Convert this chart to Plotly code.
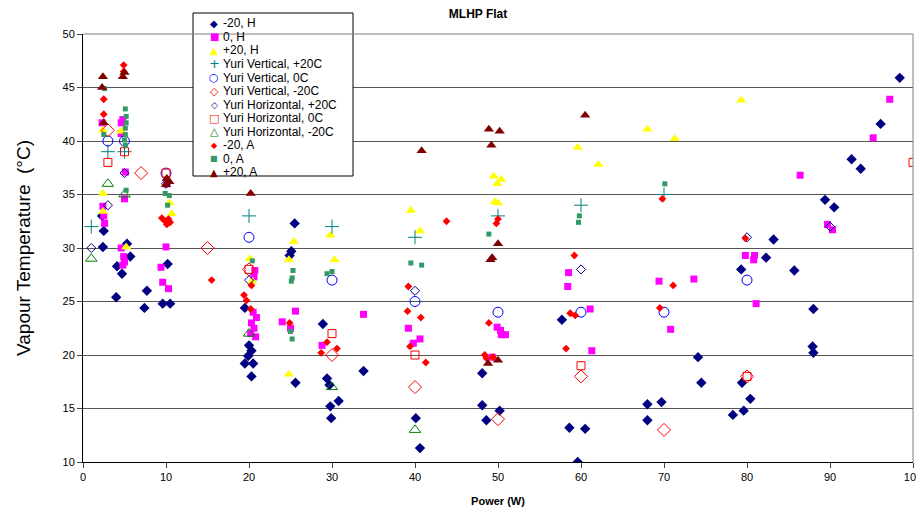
import plotly.graph_objects as go

# ---------------- data ----------------
neg20_H_x = [2.3, 2.5, 2.4, 5.3, 5.7, 4.1, 4.7, 4.0, 7.7, 7.4, 9.6, 10.5, 10.2,
             19.5, 20.0, 20.3, 19.9, 19.5, 20.5, 20.3,
             25.5, 25.1, 24.9, 25.6, 28.9, 29.4, 29.7, 30.8, 29.8, 29.9, 33.8,
             48.1, 48.1, 48.6, 50.2, 40.1, 40.6,
             57.7, 58.6, 60.5, 59.6, 68.0, 69.7, 68.0, 74.1, 74.5, 78.3,
             98.4, 96.1, 92.6, 93.7, 89.4, 90.5, 83.2, 82.3, 79.3, 85.7, 88.0, 87.9, 88.0, 79.4, 80.4, 79.6]
neg20_H_y = [33.0, 31.6, 30.1, 30.4, 29.2, 28.3, 27.6, 25.4, 26.0, 24.4, 24.8, 24.8, 28.5,
             24.4, 20.9, 20.4, 19.9, 19.2, 19.2, 18.0,
             32.3, 29.7, 29.3, 17.4, 22.9, 17.8, 17.2, 15.7, 15.2, 14.1, 18.5,
             18.3, 15.3, 13.9, 14.8, 14.1, 11.3,
             23.3, 13.2, 13.1, 10.0, 15.4, 15.6, 13.9, 19.8, 17.4, 14.4,
             45.9, 41.6, 38.3, 37.4, 34.5, 33.8, 30.8, 29.1, 28.0, 27.9, 24.3, 20.8, 20.2, 17.4, 15.9, 14.8]

zero_H_x = [2.4, 2.5, 2.6, 2.3, 4.6, 4.6, 5.1, 4.6, 4.9, 5.0, 5.0, 4.8, 4.8,
            10.0, 9.4, 9.6, 10.3, 10.1,
            20.7, 20.6, 20.5, 20.9, 20.3, 20.6, 20.2, 20.8,
            24.0, 25.6, 25.0, 28.8, 33.8,
            39.2, 39.8, 40.6, 49.9, 50.3, 50.4, 50.9, 49.3,
            58.5, 58.4, 61.1, 61.3, 69.4, 70.8, 73.6,
            97.2, 95.2, 86.4, 89.7, 90.3, 79.8, 80.9, 80.8, 81.1]
zero_H_y = [33.9, 33.0, 32.3, 41.7, 41.7, 40.7, 37.1, 30.0, 29.2, 28.7, 34.6, 28.4, 42.0,
            30.1, 28.2, 26.8, 26.2, 36.0,
            27.9, 27.3, 24.0, 23.5, 23.0, 22.5, 22.0, 21.7,
            23.1, 24.1, 22.5, 20.9, 23.8,
            22.5, 21.1, 21.5, 22.6, 22.3, 21.9, 21.9, 19.8,
            27.7, 26.4, 24.3, 20.4, 26.9, 22.4, 27.1,
            43.9, 40.3, 36.8, 32.2, 31.7, 29.3, 29.3, 28.9, 24.8]

pos20_H_x = [2.4, 4.6, 2.4, 2.4, 5.2, 10.4, 10.7,
             20.1, 20.4, 25.4, 24.8, 24.8, 29.8, 30.3,
             39.5, 40.6, 49.5, 50.4, 49.9, 49.6, 50.0,
             59.6, 62.1, 68.0, 71.3, 79.3]
pos20_H_y = [41.0, 40.9, 35.1, 33.4, 30.1, 34.2, 33.2,
             29.0, 26.9, 30.6, 28.9, 18.2, 31.2, 28.9,
             33.5, 31.6, 36.7, 36.4, 36.0, 34.3, 34.2,
             39.4, 37.8, 41.1, 40.2, 43.8]

yv_p20_x = [1, 3, 5, 20, 30, 40, 50, 60, 70]
yv_p20_y = [32, 39, 39, 33, 32, 31, 33, 34, 35]

yv_0_x = [3, 5, 10, 20, 30, 40, 50, 60, 70, 80]
yv_0_y = [40, 40, 37, 31, 27, 25, 24, 24, 24, 27]

yv_n20_x = [3, 7, 15, 20, 30, 40, 50, 60, 70, 80]
yv_n20_y = [41, 37, 30, 28, 20, 17, 14, 18, 13, 18]

yh_p20_x = [1, 3, 5, 10, 20, 40, 60, 80, 90]
yh_p20_y = [30, 34, 37, 36, 27, 26, 28, 31, 32]

yh_0_x = [3, 5, 10, 20, 30, 40, 60, 80, 100]
yh_0_y = [38, 39, 37, 28, 22, 20, 19, 18, 38]

yh_n20_x = [1, 3, 5, 20, 30, 40]
yh_n20_y = [29, 36, 35, 22, 17, 13]

neg20_A_x = [2.5, 2.5, 4.9, 4.9,
             9.5, 9.9, 10.3, 10.1, 10.5, 15.5,
             20.3, 19.4, 19.7, 20.2, 24.9, 28.7, 29.4, 30.6,
             43.8, 49.8, 50.0, 39.2, 39.1, 40.7, 39.4, 41.3, 48.9, 48.4, 48.6, 49.4,
             69.8, 59.2, 71.1, 58.7, 59.3, 69.5, 58.2, 79.8]
neg20_A_y = [43.9, 42.5, 47.1, 46.5,
             32.8, 32.5, 32.7, 32.2, 32.4, 27.0,
             26.5, 25.6, 25.1, 24.3, 23.0, 20.2, 21.2, 20.6,
             32.5, 32.3, 32.7, 26.4, 24.1, 23.5, 20.8, 19.3, 23.0, 20.0, 19.7, 19.8,
             34.6, 29.3, 26.5, 23.9, 23.7, 24.4, 20.6, 30.9]

zero_A_x = [2.6, 2.5, 5.1, 5.2, 5.2, 5.1, 5.1, 5.0, 5.1, 5.2,
            9.9, 10.4, 10.2, 20.4, 25.3, 25.2, 25.1, 25.0, 25.2, 29.4, 30.0,
            39.5, 40.8, 48.9, 59.8, 59.7, 70.1]
zero_A_y = [44.9, 40.6, 43.0, 42.3, 41.7, 41.2, 40.6, 40.1, 39.6, 35.4,
            35.1, 34.9, 34.0, 28.8, 27.9, 27.2, 26.9, 22.2, 21.5, 27.6, 27.8,
            28.6, 28.4, 31.3, 33.0, 32.4, 36.0]

pos20_A_x = [2.4, 2.3, 2.5, 4.8, 5.0, 10.1, 10.4, 10.0, 20.2,
             40.8, 48.9, 50.2, 49.2, 50.0, 49.3, 49.1, 48.8, 50.0, 60.5]
pos20_A_y = [46.0, 45.0, 41.7, 46.0, 46.4, 36.5, 36.2, 35.9, 35.1,
             39.1, 41.1, 40.9, 39.6, 30.4, 29.1, 28.9, 19.2, 19.5, 42.4]

series_names = ["-20, H", "0, H", "+20, H",
                "Yuri Vertical, +20C", "Yuri Vertical, 0C", "Yuri Vertical, -20C",
                "Yuri Horizontal, +20C", "Yuri Horizontal, 0C", "Yuri Horizontal, -20C",
                "-20, A", "0, A", "+20, A"]

x_ticks = [0, 10, 20, 30, 40, 50, 60, 70, 80, 90, 100]
y_ticks = [10, 15, 20, 25, 30, 35, 40, 45, 50]

# ---------------- styles ----------------
xs_all = [neg20_H_x, zero_H_x, pos20_H_x, yv_p20_x, yv_0_x, yv_n20_x,
          yh_p20_x, yh_0_x, yh_n20_x, neg20_A_x, zero_A_x, pos20_A_x]
ys_all = [neg20_H_y, zero_H_y, pos20_H_y, yv_p20_y, yv_0_y, yv_n20_y,
          yh_p20_y, yh_0_y, yh_n20_y, neg20_A_y, zero_A_y, pos20_A_y]

markers = [
    dict(symbol="diamond", color="#000080", size=8),
    dict(symbol="square", color="#FF00FF", size=7),
    dict(symbol="triangle-up", color="#FFFF00", size=9),
    dict(symbol="cross-thin-open", color="#008080", size=10, line=dict(color="#008080", width=1)),
    dict(symbol="circle-open", color="#0000FF", size=10, line=dict(color="#0000FF", width=1)),
    dict(symbol="diamond-open", color="#FF0000", size=10, line=dict(color="#FF0000", width=1)),
    dict(symbol="diamond-open", color="#000080", size=7, line=dict(color="#000080", width=1)),
    dict(symbol="square-open", color="#FF0000", size=8, line=dict(color="#FF0000", width=1)),
    dict(symbol="triangle-up-open", color="#008000", size=10, line=dict(color="#008000", width=1)),
    dict(symbol="diamond", color="#FF0000", size=6),
    dict(symbol="square", color="#339966", size=5),
    dict(symbol="triangle-up", color="#800000", size=9),
]
# legend key glyphs (text) and their sizes
legend_glyphs = ["◆", "■", "▲", "+", "○", "◇", "◇", "□", "△", "◆", "■", "▲"]
legend_glyph_sizes = [10, 10, 10, 13, 11, 11, 9, 11, 11, 8, 8, 10]

FONT = "Liberation Sans, Arial, sans-serif"

fig = go.Figure()
for name, xs, ys, mk in zip(series_names, xs_all, ys_all, markers):
    fig.add_trace(go.Scatter(x=xs, y=ys, mode="markers", name=name, marker=mk,
                             showlegend=False))

# page offset (body margin) and plot area in window pixels
OFF = 8
W, H = 924 - OFF, 511 - OFF
PL, PR, PT, PB = 83, 913, 34, 462


def px_to_paper(xp, yp):
    return (xp - PL) / (PR - PL), (PB - yp) / (PB - PT)


# legend box
bx0, by0 = px_to_paper(193, 176)
bx1, by1 = px_to_paper(353, 13)
fig.add_shape(type="rect", xref="paper", yref="paper", x0=bx0, x1=bx1, y0=by0, y1=by1,
              fillcolor="white", line=dict(color="black", width=1), layer="above")

annotations = []
for i, (name, mk) in enumerate(zip(series_names, markers)):
    ypix = 23.5 + i * 13.5
    gx, gy = px_to_paper(214, ypix)
    tx, _ = px_to_paper(221, ypix)
    annotations.append(dict(x=gx, y=gy, xref="paper", yref="paper", text=legend_glyphs[i],
                            showarrow=False, xanchor="center", yanchor="middle",
                            font=dict(family="DejaVu Sans", size=legend_glyph_sizes[i],
                                      color=mk["color"])))
    annotations.append(dict(x=tx, y=gy, xref="paper", yref="paper", text=name,
                            showarrow=False, xanchor="left", yanchor="middle",
                            font=dict(family=FONT, size=12, color="black")))

fig.update_layout(
    width=W, height=H,
    margin=dict(l=PL - OFF, r=924 - PR, t=PT - OFF, b=511 - PB, pad=0, autoexpand=False),
    paper_bgcolor="white", plot_bgcolor="white",
    font=dict(family=FONT, size=11, color="black"),
    title=dict(text="<b>MLHP Flat</b>", x=0.476, xref="paper", xanchor="center",
               y=(H - 6) / H, yref="container", yanchor="middle",
               font=dict(size=12, family=FONT)),
    showlegend=False,
    annotations=annotations,
    xaxis=dict(range=[0, 100], tickvals=x_ticks, ticks="outside", ticklen=5,
               showline=True, linecolor="black", linewidth=1, showgrid=False, zeroline=False,
               automargin=False,
               title=dict(text="<b>Power (W)</b>", font=dict(size=11), standoff=15),
               tickfont=dict(size=11)),
    yaxis=dict(range=[10, 50], tickvals=y_ticks, ticks="outside", ticklen=5,
               showline=True, linecolor="black", linewidth=1, automargin=False,
               showgrid=True, gridcolor="#555555", gridwidth=1, zeroline=False,
               title=dict(text="Vapour Temperature  (°C)", font=dict(size=19), standoff=26),
               tickfont=dict(size=11)),
)
# grey top and right frame lines
fig.add_shape(type="line", xref="paper", yref="paper", x0=0, x1=1, y0=1, y1=1,
              line=dict(color="#808080", width=1))
fig.add_shape(type="line", xref="paper", yref="paper", x0=1, x1=1, y0=0, y1=1,
              line=dict(color="#808080", width=1))

fig.write_html("out.html")
